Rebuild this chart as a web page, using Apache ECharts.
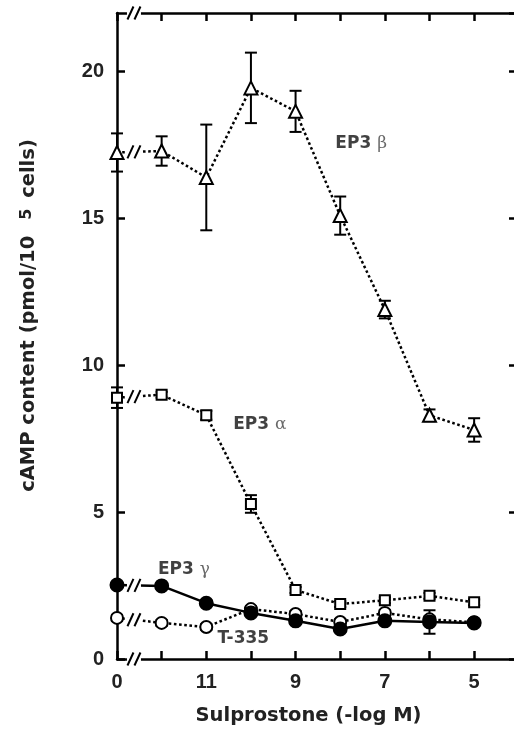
<!DOCTYPE html>
<html><head><meta charset="utf-8">
<script src="https://cdn.jsdelivr.net/npm/echarts@6/dist/echarts.min.js"></script>
<style>html,body{margin:0;padding:0;background:#fff}#c{width:514px;height:734px}</style>
</head><body><div id="c"></div>
<script>
// x categories: control (0) then -log M from 12 to 5, evenly spaced
const xCategories = ['0','12','11','10','9','8','7','6','5'];
const xTickLabels = ['0','','11','','9','','7','','5'];
const yTicks = [0,5,10,15,20];

const ep3Beta     = [17.25, 17.3, 16.4, 19.45, 18.65, 15.1, 11.9, 8.3, 7.8];
const ep3BetaErr  = [0.65, 0.5, 1.8, 1.2, 0.7, 0.65, 0.3, 0.2, 0.4];
const ep3Alpha    = [8.9, 9.0, 8.3, 5.28, 2.35, 1.87, 2.0, 2.15, 1.93];
const ep3AlphaErr = [0.35, 0.1, 0.15, 0.3, 0.1, 0.1, 0.1, 0.1, 0.1];
const ep3Gamma    = [2.52, 2.49, 1.9, 1.57, 1.3, 1.02, 1.3, 1.26, 1.23];
const ep3GammaErr = [0.1, 0.1, 0.1, 0.1, 0.1, 0.1, 0.1, 0.4, 0.1];
const t335        = [1.4, 1.23, 1.09, 1.7, 1.53, 1.26, 1.57, 1.35, 1.25];
const t335Err     = [0.1, 0.1, 0.1, 0.1, 0.1, 0.1, 0.1, 0.1, 0.1];

const FONT = '"Liberation Sans", Arial, Helvetica, sans-serif';
const WIDE = '"DejaVu Sans", Verdana, sans-serif';
const GREEK = '"DejaVu Serif", "Liberation Serif", serif';
const X_MAX = 8.96, Y_MAX = 22, BREAK_X = 0.38;

const pts = vals => vals.map((v, i) => [i, v]);
const errs = (vals, e) => vals.map((v, i) => [i, v - e[i], v + e[i]]);

function errRender(params, api) {
  const x = api.value(0);
  const lo = api.coord([x, api.value(1)]);
  const hi = api.coord([x, api.value(2)]);
  const w = 6;
  const st = { stroke: '#000', lineWidth: 2 };
  return { type: 'group', children: [
    { type: 'line', shape: { x1: hi[0], y1: hi[1], x2: lo[0], y2: lo[1] }, style: st },
    { type: 'line', shape: { x1: hi[0] - w, y1: hi[1], x2: hi[0] + w, y2: hi[1] }, style: st },
    { type: 'line', shape: { x1: lo[0] - w, y1: lo[1], x2: lo[0] + w, y2: lo[1] }, style: st }
  ]};
}
function errSeries(vals, e) {
  return { type: 'custom', renderItem: errRender, data: errs(vals, e), z: 2, clip: false, silent: true };
}

// break marks "//" on axes and on the first segment of each curve
function breakRender(params, api) {
  const p = api.coord([api.value(0), api.value(1)]);
  const st = { stroke: '#000', lineWidth: 2 };
  const h = 6.5, s = 3;
  return { type: 'group', children: [
    { type: 'rect', shape: { x: p[0] - 7, y: p[1] - 2.5, width: 14, height: 5 }, style: { fill: '#fff' } },
    { type: 'line', shape: { x1: p[0] - 3.5 - s, y1: p[1] + h, x2: p[0] - 3.5 + s, y2: p[1] - h }, style: st },
    { type: 'line', shape: { x1: p[0] + 3.5 - s, y1: p[1] + h, x2: p[0] + 3.5 + s, y2: p[1] - h }, style: st }
  ]};
}
const breakData = [[BREAK_X, 0], [BREAK_X, Y_MAX]].concat(
  [ep3Beta, ep3Alpha, ep3Gamma, t335].map(v => [BREAK_X, v[0] + (v[1] - v[0]) * BREAK_X])
);

function lineSeries(name, vals, symbol, size, filled, solid) {
  return {
    name, type: 'line', data: pts(vals), symbol, symbolSize: size, showAllSymbol: true,
    clip: false, z: 3,
    lineStyle: { color: '#000', width: 2.5, type: solid ? 'solid' : [2.6, 2.6] },
    itemStyle: { color: filled ? '#000' : '#fff', borderColor: '#000', borderWidth: 2 },
    emphasis: { disabled: true }
  };
}

const richLbl = {
  a: { fontFamily: WIDE, fontWeight: 'bold', fontSize: 17, color: '#111' },
  b: { fontFamily: GREEK, fontSize: 17, color: '#444' }
};
function annot(text, greek, x, y) {
  return { value: [x, y], label: { formatter: greek ? '{a|' + text + ' }{b|' + greek + '}' : '{a|' + text + '}' } };
}

const mkAxisLine = () => ({ show: true, onZero: false, lineStyle: { color: '#000', width: 2.5 } });
const mkAxisTick = () => ({ show: true, inside: true, length: 8, lineStyle: { color: '#000', width: 2.5 } });

const chart = echarts.init(document.getElementById('c'), null, { renderer: 'canvas' });
chart.setOption({
  animation: false,
  backgroundColor: '#fff',
  grid: { left: 117, width: 400, top: 13, bottom: 75, containLabel: false, outerBoundsMode: 'none' },
  xAxis: [{
    type: 'value', min: 0, max: X_MAX, interval: 1, position: 'bottom',
    axisLine: mkAxisLine(), axisTick: mkAxisTick(), splitLine: { show: false },
    name: 'Sulprostone (-log M)', nameLocation: 'middle', nameGap: 47,
    nameTextStyle: { fontFamily: WIDE, fontWeight: 'bold', fontSize: 19.5, color: '#222', padding: [0, 17, 0, 0] },
    axisLabel: { margin: 13, showMaxLabel: false, fontFamily: FONT, fontWeight: 'bold', fontSize: 20, color: '#222',
      formatter: v => (Number.isInteger(v) && v < xTickLabels.length) ? xTickLabels[v] : '' }
  }, {
    type: 'value', min: 0, max: X_MAX, interval: 1, position: 'top',
    axisLine: mkAxisLine(), axisTick: mkAxisTick(), splitLine: { show: false }, axisLabel: { show: false }
  }],
  yAxis: [{
    type: 'value', min: 0, max: Y_MAX, interval: 5, position: 'left',
    axisLine: mkAxisLine(), axisTick: mkAxisTick(), splitLine: { show: false },
    name: 'cAMP content (pmol/10{s|5} cells)', nameLocation: 'middle', nameGap: 78, nameRotate: 90,
    nameTextStyle: { fontFamily: WIDE, fontWeight: 'bold', fontSize: 19.5, color: '#222', padding: [0, 0, 0, 41],
      rich: { s: { fontFamily: WIDE, fontWeight: 'bold', fontSize: 16, color: '#222', padding: [0, 4, 4, 16] } } },
    axisLabel: { margin: 13, showMaxLabel: false, fontFamily: FONT, fontWeight: 'bold', fontSize: 20, color: '#222',
      formatter: v => yTicks.includes(v) ? String(v) : '' }
  }, {
    type: 'value', min: 0, max: Y_MAX, interval: 5, position: 'right',
    axisLine: mkAxisLine(), axisTick: mkAxisTick(), splitLine: { show: false }, axisLabel: { show: false }
  }],
  series: [
    errSeries(ep3Beta, ep3BetaErr),
    errSeries(ep3Alpha, ep3AlphaErr),
    errSeries(t335, t335Err),
    errSeries(ep3Gamma, ep3GammaErr),
    lineSeries('EP3 β', ep3Beta, 'triangle', 13, false, false),
    lineSeries('EP3 α', ep3Alpha, 'rect', 10, false, false),
    lineSeries('T-335', t335, 'circle', 12, false, false),
    lineSeries('EP3 γ', ep3Gamma, 'circle', 13, true, true),
    { type: 'custom', renderItem: breakRender, data: breakData, z: 10, clip: false, silent: true },
    {
      type: 'scatter', symbolSize: 0, silent: true, clip: false, z: 11,
      label: { show: true, position: 'inside', rich: richLbl },
      data: [
        annot('EP3', 'β', 5.47, 17.55),
        annot('EP3', 'α', 3.2, 8.0),
        annot('EP3', 'γ', 1.5, 3.03),
        annot('T-335', '', 2.83, 0.68)
      ]
    }
  ]
});
</script></body></html>
